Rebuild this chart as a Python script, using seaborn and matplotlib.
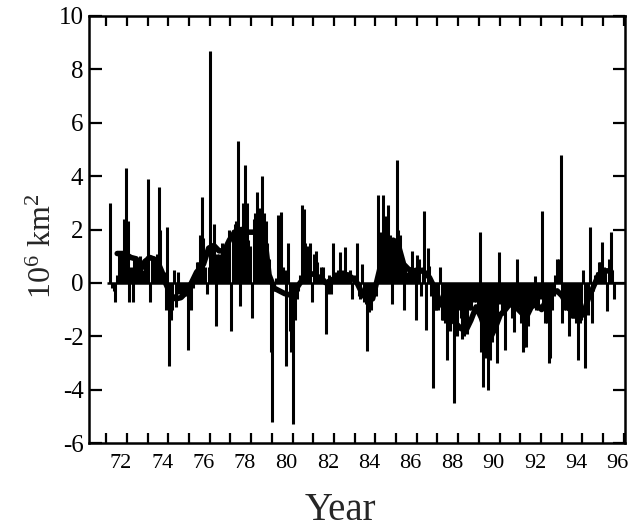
import numpy as np
import pandas as pd
import matplotlib
matplotlib.use("Agg")
import matplotlib.pyplot as plt
import seaborn as sns
from matplotlib import transforms
from matplotlib.ticker import MultipleLocator, FixedLocator

# ---------------- data ----------------
start_year = 71.2          # decimal year (19xx) of first monthly value
anomaly = [
    3.0, -0.2, -0.3, -0.7, 0.3, 1.2, 1.2, 1.1, 2.4, 4.3, 2.3, -0.7,
    0.6, -0.7, 1.0, 0.9, 0.9, 1.0, 0.6, 0.5, 0.7, 1.0, 3.9, -0.7,
    1.0, 1.0, 0.9, 1.1, 3.6, 2.0, 0.4, 0.4, -1.0, 2.1, -3.1, -1.4,
    -1.0, 0.5, -0.9, 0.4, -0.4, -0.5, -0.4, -0.5, -0.3, -2.5, -0.5, -1.0,
    -0.2, 0.2, 0.8, 0.8, 1.8, 3.2, 1.7, 0.6, -0.4, 0.6, 8.7, 1.3,
    2.2, -1.6, 1.1, 1.1, 1.0, 1.5, 1.2, 1.5, 1.0, 2.0, -1.8, 2.0,
    2.2, 2.3, 5.3, -0.85, 2.0, 3.0, 4.4, 3.0, 1.6, 1.4, -1.3, 2.4,
    2.6, 3.4, 2.8, 2.5, 4.0, 2.6, 2.3, 1.5, 0.9, -2.6, -5.2, -0.3,
    0.2, 2.55, 0.3, 2.65, 0.6, 0.5, -3.1, 1.5, -1.8, -2.6, -5.3, -1.4,
    -0.6, -0.3, 0.3, 2.9, 2.75, 1.5, 1.4, 1.3, 1.5, -0.7, 1.1, 1.2,
    0.8, 0.3, 0.6, 0.6, 0.2, -1.9, -0.4, 0.3, -0.4, 1.5, 0.4, 0.3,
    0.5, 1.15, 0.3, 0.5, 1.35, 0.4, 0.4, 0.5, -0.6, 0.2, 0.3, 1.5,
    -0.5, -0.6, 0.7, -0.7, -0.8, -2.55, -1.1, -1.0, -0.6, -0.35, -0.5, 3.3,
    1.5, 1.9, 3.3, 2.0, 2.5, 2.9, 1.8, -0.8, 1.7, 1.7, 4.6, 2.0,
    1.8, 0.7, -1.0, 0.6, 0.4, 0.6, 0.3, 1.2, 0.4, -1.4, 1.05, 0.9,
    -0.5, 0.6, 2.7, -1.75, 1.3, 0.65, -0.5, -3.95, -1.0, -1.0, -1.0, 0.6,
    -1.4, -1.4, -1.5, -2.9, -1.6, -1.8, -1.5, -4.5, -1.9, -2.0, -1.0, -1.3,
    -2.1, -2.0, -1.7, -1.9, -1.0, -1.0, -0.6, -0.7, -0.7, -1.0, 1.9, -2.6,
    -3.9, -2.6, -2.8, -4.0, -2.9, -2.2, -1.5, -1.6, -3.0, 1.15, -0.8, -1.2,
    -1.0, -2.5, -0.8, -0.8, -0.9, -1.3, -1.85, -0.9, 0.9, -0.9, -1.5, -2.6,
    -2.4, -2.4, -1.6, -0.85, -0.85, -0.9, 0.25, -1.0, -1.0, -0.6, 2.7, -0.8,
    -1.5, -1.5, -3.0, -2.8, -1.0, -0.5, 0.3, 0.9, 0.9, 4.8, -1.5, -1.0,
    -1.0, -1.0, -2.0, -1.3, -1.3, -1.3, -1.5, -2.9, -1.5, -1.4, 0.5, -3.2,
    -1.0, -1.2, 2.1, -1.5, -0.3, 0.3, 0.4, 0.8, 0.8, 1.55, 0.6, 0.5,
    -1.05, 0.9, 1.9, 0.5, -0.6,
]

# running mean, month index from start
smooth_month = [4, 8, 12, 15, 18, 20, 23, 27, 30, 32, 35, 38, 41, 44, 47, 50,
                54, 57, 60, 63, 66, 69, 72, 76, 80, 84, 88, 90, 92, 95, 98,
                101, 104, 107, 110, 113, 116, 119, 122, 125, 128, 131, 134,
                137, 140, 143, 146, 149, 152, 155, 158, 161, 164, 167, 170,
                173, 176, 179, 182, 185, 188, 191, 194, 197, 200, 203, 206,
                209, 212, 215, 218, 220, 223, 226, 229, 232, 235, 238, 241,
                244, 247, 250, 253, 256, 259, 262, 265, 268, 271, 274, 277,
                280, 283, 286, 290]
smooth_value = [1.1, 1.1, 0.95, 0.9, 0.55, 0.8, 0.95, 0.85, 0.4, 0.0, -0.45,
                -0.6, -0.55, -0.35, 0.0, 0.4, 0.7, 1.3, 1.4, 1.2, 1.2, 1.6,
                1.9, 2.0, 1.9, 1.9, 1.9, 1.4, 0.3, -0.2, -0.3, -0.4, -0.45,
                -0.3, 0.0, 0.25, 0.35, 0.3, 0.15, 0.0, 0.1, 0.2, 0.3, 0.3,
                0.2, 0.0, -0.4, -0.65, -0.6, 0.2, 1.0, 1.5, 1.6, 1.4, 0.7,
                0.5, 0.45, 0.5, 0.4, 0.2, -0.2, -0.7, -1.0, -1.3, -1.5, -1.7,
                -1.8, -1.4, -0.9, -1.3, -1.9, -2.1, -1.7, -1.2, -1.0, -0.75,
                -0.9, -1.1, -1.3, -0.9, -0.8, -1.0, -0.6, -0.4, -0.3, -0.5,
                -0.9, -1.1, -1.25, -1.2, -0.6, -0.15, 0.3, 0.45, 0.45]

x_major_ticks = [72, 74, 76, 78, 80, 82, 84, 86, 88, 90, 92, 94, 96]
x_tick_labels = ["72", "74", "76", "78", "80", "82", "84", "86", "88",
                 "90", "92", "94", "96"]
y_ticks = [-6, -4, -2, 0, 2, 4, 6, 8, 10]
y_tick_labels = ["-6", "-4", "-2", "0", "2", "4", "6", "8", "10"]

# ---------------- style ----------------
sns.set_style("ticks")
plt.rcParams['font.family'] = ['Liberation Serif', 'DejaVu Serif']
plt.rcParams['mathtext.fontset'] = 'custom'
plt.rcParams['mathtext.rm'] = 'Liberation Serif'
plt.rcParams['mathtext.it'] = 'Liberation Serif:italic'

W, H = 628, 528
fig = plt.figure(figsize=(W / 100, H / 100), dpi=100)
fig.patch.set_facecolor('white')
ax = fig.add_axes([89 / W, (H - 443) / H, (625 - 89) / W, (443 - 16) / H])
ax.set_facecolor('white')

df = pd.DataFrame({"year": start_year + np.arange(len(anomaly)) / 12.0,
                   "anomaly": anomaly})
sm = pd.DataFrame({"year": start_year + np.array(smooth_month) / 12.0,
                   "value": smooth_value})

ax.vlines(df["year"], 0, df["anomaly"], color='black', linewidth=2.2,
          zorder=2)
ax.hlines(0, 71.05, 96.06, color='black', linewidth=1.8, zorder=3)
sns.lineplot(data=sm, x="year", y="value", ax=ax, color='black',
             linewidth=4.0, sort=False, zorder=4)

ax.set_xlim(70.17, 96.06)
ax.set_ylim(-6, 10)

ax.xaxis.set_major_locator(FixedLocator(x_major_ticks))
ax.set_xticklabels(x_tick_labels, fontsize=16)
ax.xaxis.set_minor_locator(MultipleLocator(1))
ax.set_yticks(y_ticks)
ax.set_yticklabels(y_tick_labels, fontsize=18)

ax.tick_params(axis='x', which='both', direction='in', length=7, width=1.6,
               top=True, bottom=True, pad=8, colors='black')
ax.tick_params(axis='y', which='both', direction='in', length=9, width=1.6,
               left=True, right=True, pad=4, colors='black')

for sp in ax.spines.values():
    sp.set_linewidth(1.8)
    sp.set_color('black')
    sp.set_visible(True)

# labels in the reference sit slightly left of their ticks
offset = transforms.ScaledTranslation(-6 / 100, 0, fig.dpi_scale_trans)
for tick in ax.xaxis.get_major_ticks():
    tick.label1.set_transform(tick.label1.get_transform() + offset)

ax.set_xlabel("Year", fontsize=28)
ax.xaxis.set_label_coords((340 - 89) / 536, (443 - 492) / 427)
ax.set_ylabel(r"10$^{6}$ km$^{2}$", fontsize=23)
ax.yaxis.set_label_coords((58 - 89) / 536, (443 - 246) / 427)

fig.savefig("out.png", dpi=100, facecolor='white')
